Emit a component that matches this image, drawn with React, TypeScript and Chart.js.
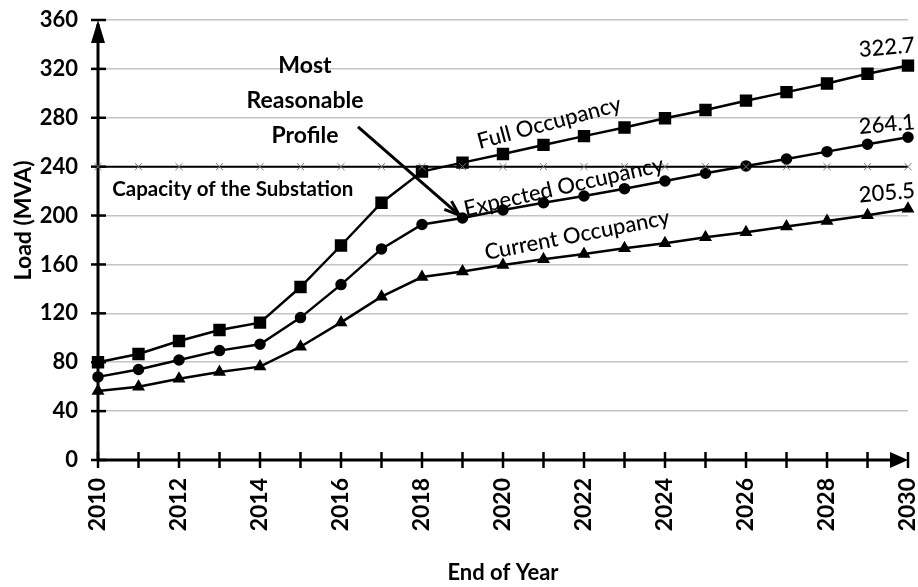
import React, { useEffect, useRef } from "react";
import { Chart, registerables } from "chart.js";

Chart.register(...registerables);

const years = ["2010","2011","2012","2013","2014","2015","2016","2017","2018","2019","2020","2021","2022","2023","2024","2025","2026","2027","2028","2029","2030"];
const fullOccupancy = [80, 86.7, 97.4, 106.4, 112.4, 141.5, 175.5, 210.5, 236, 243.3, 250.4, 257.8, 265, 272, 279.6, 286.4, 294, 301, 308, 316, 322.7];
const expectedOccupancy = [68, 74, 81.8, 89.5, 94.7, 116.5, 143.5, 172.7, 192.7, 198, 204.5, 210.5, 216, 222, 228.3, 234.6, 240.6, 246.3, 252.3, 258.3, 264.1];
const currentOccupancy = [56.5, 60, 66.5, 72, 76.4, 92.7, 112.6, 133.6, 149.7, 154.3, 159.5, 164.2, 168.5, 173.2, 177.3, 182.2, 186.3, 191, 195.6, 200.3, 205.5];
const substationCapacity = [240, 240, 240, 240, 240, 240, 240, 240, 240, 240, 240, 240, 240, 240, 240, 240, 240, 240, 240, 240, 240];
const yTicks = [0, 40, 80, 120, 160, 200, 240, 280, 320, 360];
const endLabels = ["322.7", "264.1", "205.5"];

const FONT = "Lato, 'Open Sans', sans-serif";

const decorPlugin = {
  id: "decor",
  beforeDatasetsDraw(chart: any) {
    const { ctx, chartArea, scales } = chart;
    const xs = scales.x;
    const ys = scales.y;
    const x0 = chartArea.left;
    const y0 = chartArea.bottom;
    ctx.save();
    ctx.strokeStyle = "#000";
    ctx.fillStyle = "#000";
    ctx.lineWidth = 3;
    // y axis
    ctx.beginPath();
    ctx.moveTo(x0, y0);
    ctx.lineTo(x0, chartArea.top + 4);
    ctx.stroke();
    ctx.beginPath();
    ctx.moveTo(x0, chartArea.top);
    ctx.lineTo(x0 - 7, chartArea.top + 23);
    ctx.lineTo(x0 + 7, chartArea.top + 23);
    ctx.closePath();
    ctx.fill();
    // x axis
    ctx.beginPath();
    ctx.moveTo(x0, y0);
    ctx.lineTo(chartArea.right - 4, y0);
    ctx.stroke();
    ctx.beginPath();
    ctx.moveTo(chartArea.right, y0);
    ctx.lineTo(chartArea.right - 18, y0 - 8);
    ctx.lineTo(chartArea.right - 18, y0 + 8);
    ctx.closePath();
    ctx.fill();
    // ticks
    ctx.lineWidth = 2.5;
    yTicks.forEach((v) => {
      const py = ys.getPixelForValue(v);
      ctx.beginPath();
      ctx.moveTo(x0 - 7, py);
      ctx.lineTo(x0 + 8, py);
      ctx.stroke();
    });
    years.forEach((_, i) => {
      const px = xs.getPixelForValue(i);
      ctx.beginPath();
      ctx.moveTo(px, y0 - 8);
      ctx.lineTo(px, y0 + 8);
      ctx.stroke();
    });
    ctx.restore();
  },
  afterDatasetsDraw(chart: any) {
    const { ctx, scales } = chart;
    const xs = scales.x;
    const ys = scales.y;
    const X = (v: number) => xs.getPixelForValue(v);
    const Y = (v: number) => ys.getPixelForValue(v);
    ctx.save();
    ctx.fillStyle = "#000";
    ctx.strokeStyle = "#000";

    const rotText = (t: string, x: number, y: number, deg: number, font: string) => {
      ctx.save();
      ctx.translate(x, y);
      ctx.rotate((deg * Math.PI) / 180);
      ctx.font = font;
      ctx.textAlign = "center";
      ctx.textBaseline = "middle";
      ctx.fillText(t, 0, 0);
      ctx.restore();
    };

    // y axis title
    rotText("Load (MVA)", 24, Y(196), -90, `bold 23px ${FONT}`);

    // Most Reasonable Profile
    ctx.font = `bold 23px ${FONT}`;
    ctx.textAlign = "center";
    ctx.textBaseline = "middle";
    ctx.fillText("Most", X(5.11), Y(322.5));
    ctx.fillText("Reasonable", X(5.11), Y(294));
    ctx.fillText("Profile", X(5.11), Y(265.5));

    // arrow
    const ax1 = X(6.42), ay1 = Y(272.5), ax2 = X(8.88), ay2 = Y(201.5);
    ctx.lineWidth = 3;
    ctx.beginPath();
    ctx.moveTo(ax1, ay1);
    ctx.lineTo(ax2, ay2);
    ctx.stroke();
    const ang = Math.atan2(ay2 - ay1, ax2 - ax1);
    ctx.beginPath();
    ctx.moveTo(ax2 + 2 * Math.cos(ang), ay2 + 2 * Math.sin(ang));
    ctx.lineTo(ax2 - 14 * Math.cos(ang - 0.4), ay2 - 14 * Math.sin(ang - 0.4));
    ctx.moveTo(ax2 + 2 * Math.cos(ang), ay2 + 2 * Math.sin(ang));
    ctx.lineTo(ax2 - 14 * Math.cos(ang + 0.4), ay2 - 14 * Math.sin(ang + 0.4));
    ctx.stroke();

    // capacity text
    ctx.font = `bold 20.5px ${FONT}`;
    ctx.textAlign = "left";
    ctx.fillText("Capacity of the Substation", X(0.35), Y(221));

    rotText("Full Occupancy", X(11.14), Y(275.8), -15, `500 22px ${FONT}`);
    rotText("Expected Occupancy", X(11.5), Y(223.4), -12.8, `500 22px ${FONT}`);
    rotText("Current Occupancy", X(11.83), Y(184), -11, `500 22px ${FONT}`);

    rotText(endLabels[0], X(19.48), Y(337.5), -5, `500 22px ${FONT}`);
    rotText(endLabels[1], X(19.48), Y(274.5), -5, `500 22px ${FONT}`);
    rotText(endLabels[2], X(19.48), Y(218.5), -5, `500 22px ${FONT}`);
    ctx.restore();
  },
};

const zeroPad = (s: any) => {
  s.paddingLeft = 0;
  s.paddingRight = 0;
  s.paddingTop = 0;
  s.paddingBottom = 0;
};

export default function App() {
  const ref = useRef<HTMLCanvasElement | null>(null);
  useEffect(() => {
    document.body.style.margin = "0";
    const canvas = ref.current;
    if (!canvas) return;
    const chart = new Chart(canvas, {
      type: "line",
      data: {
        labels: years,
        datasets: [
          {
            label: "Capacity of the Substation",
            data: substationCapacity,
            borderColor: "#000",
            borderWidth: 2,
            pointStyle: "crossRot",
            pointRadius: 5,
            pointBorderColor: "#777",
            pointBorderWidth: 1,
            pointBackgroundColor: "#777",
          },
          {
            label: "Full Occupancy",
            data: fullOccupancy,
            borderColor: "#000",
            borderWidth: 2.5,
            pointStyle: "rect",
            pointRadius: 7,
            pointBackgroundColor: "#000",
            pointBorderColor: "#000",
          },
          {
            label: "Expected Occupancy",
            data: expectedOccupancy,
            borderColor: "#000",
            borderWidth: 2.5,
            pointStyle: "circle",
            pointRadius: 4.5,
            pointBackgroundColor: "#000",
            pointBorderColor: "#000",
          },
          {
            label: "Current Occupancy",
            data: currentOccupancy,
            borderColor: "#000",
            borderWidth: 2.5,
            pointStyle: "triangle",
            pointRadius: 5,
            pointBackgroundColor: "#000",
            pointBorderColor: "#000",
          },
        ],
      },
      options: {
        responsive: false,
        animation: false,
        devicePixelRatio: 1,
        layout: { padding: { left: 8, right: 10, top: 20, bottom: 0 } },
        plugins: { legend: { display: false }, tooltip: { enabled: false } },
        elements: { line: { tension: 0 } },
        scales: {
          x: {
            type: "category",
            offset: false,
            grid: { display: false, drawTicks: false },
            border: { display: false },
            ticks: {
              autoSkip: false,
              maxRotation: 90,
              minRotation: 90,
              padding: 18,
              color: "#000",
              font: { family: FONT, size: 23, weight: "bold" },
              callback: (_v: any, i: number) => (i % 2 === 0 ? years[i] : ""),
            },
            title: {
              display: true,
              text: "End of Year",
              color: "#000",
              font: { family: FONT, size: 22, weight: "bold" },
              padding: { top: 4, bottom: 1 },
            },
            afterFit: (s: any) => {
              s.height = 127;
              zeroPad(s);
            },
          },
          y: {
            min: 0,
            max: 360,
            grid: { color: "#c4c4c4", lineWidth: 1.5, drawTicks: false },
            border: { display: false },
            ticks: {
              stepSize: 40,
              padding: 20,
              color: "#000",
              font: { family: FONT, size: 22, weight: "bold" },
            },
            title: { display: false },
            afterFit: (s: any) => {
              s.width = 90;
              zeroPad(s);
            },
          },
        },
      },
      plugins: [decorPlugin],
    } as any);
    return () => chart.destroy();
  }, []);
  return <canvas ref={ref} width={918} height={587} style={{ display: "block" }} />;
}
